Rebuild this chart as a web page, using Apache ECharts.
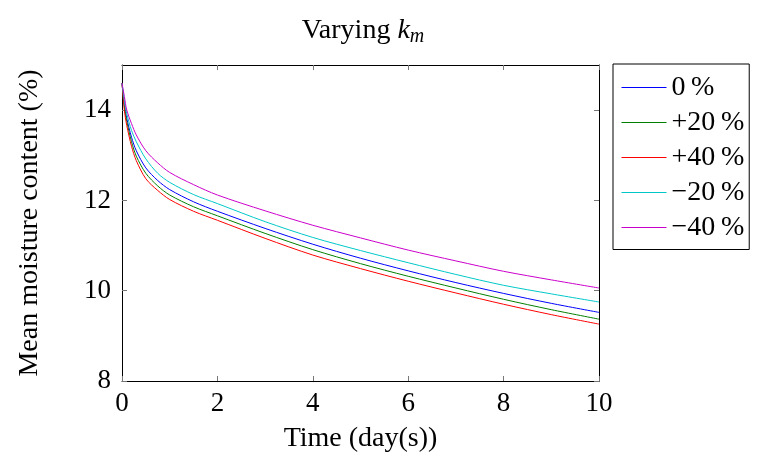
<!DOCTYPE html>
<html lang="en">
<head>
	<meta charset="UTF-8">
	<title>Varying k_m</title>
	<script src="https://cdn.jsdelivr.net/npm/echarts@6/dist/echarts.min.js"></script>
	<style>
		html, body, #chart {
			width: 100%;
			height: 100%;
			margin: 0;
			padding: 0;
			overflow: hidden;
			background: #fff;
		}
	</style>
</head>
<body>
	<div id="chart"></div>
	<script>
		// time axis (days)
		var timeDays = [0, 0.05, 0.1, 0.2, 0.3, 0.5, 0.75, 1, 1.5, 2, 3, 4, 5, 6, 7, 8, 9, 10];
		// mean moisture content (%) per k_m variation
		var km0 = [14.6, 14.12, 13.82, 13.4, 13.1, 12.72, 12.44, 12.24, 11.97, 11.76, 11.38, 11.03, 10.72, 10.44, 10.18, 9.94, 9.72, 9.52];
		var kmPlus20 = [14.6, 14.06, 13.75, 13.3, 12.98, 12.6, 12.32, 12.12, 11.86, 11.66, 11.27, 10.91, 10.6, 10.32, 10.06, 9.81, 9.58, 9.37];
		var kmPlus40 = [14.6, 14.0, 13.66, 13.2, 12.88, 12.48, 12.22, 12.02, 11.76, 11.56, 11.16, 10.79, 10.49, 10.21, 9.95, 9.7, 9.47, 9.26];
		var kmMinus20 = [14.6, 14.2, 13.92, 13.55, 13.3, 12.92, 12.6, 12.4, 12.13, 11.93, 11.53, 11.18, 10.89, 10.62, 10.36, 10.12, 9.93, 9.75];
		var kmMinus40 = [14.6, 14.3, 14.0, 13.7, 13.45, 13.1, 12.83, 12.62, 12.35, 12.12, 11.77, 11.45, 11.17, 10.9, 10.66, 10.43, 10.24, 10.06];

		var seriesNames = ['0\u2009%', '+20\u2009%', '+40\u2009%', '\u221220\u2009%', '\u221240\u2009%'];
		var seriesData = [km0, kmPlus20, kmPlus40, kmMinus20, kmMinus40];
		var seriesColors = ['#0000ff', '#008000', '#ff0000', '#00c8c8', '#cc00cc'];

		var xTicks = [0, 2, 4, 6, 8, 10];
		var yTicks = [8, 10, 12, 14];

		var serif = '"Liberation Serif", "DejaVu Serif", serif';

		function pairs(ys) {
			var out = [];
			for (var i = 0; i < timeDays.length; i++) {
				out.push([timeDays[i], ys[i]]);
			}
			return out;
		}

		var series = [];
		for (var i = 0; i < seriesNames.length; i++) {
			series.push({
				name: seriesNames[i],
				type: 'line',
				smooth: 0.3,
				symbol: 'none',
				color: seriesColors[i],
				lineStyle: { color: seriesColors[i], width: 1 },
				itemStyle: { color: seriesColors[i] },
				data: pairs(seriesData[i])
			});
		}

		var tickStyle = { show: true, inside: true, length: 5, lineStyle: { color: '#777', width: 1 } };
		var lineStyle = { show: true, onZero: false, lineStyle: { color: '#000', width: 1 } };

		var chart = echarts.init(document.getElementById('chart'));
		var option = {
			animation: false,
			title: {
				text: 'Varying {k|k}{m|m}',
				left: 358,
				top: 10,
				textAlign: 'center',
				textStyle: {
					fontFamily: serif,
					fontSize: 28,
					fontWeight: 'normal',
					color: '#000',
					rich: {
						k: { fontFamily: serif, fontSize: 28, fontStyle: 'italic', color: '#000' },
						m: { fontFamily: serif, fontSize: 20, fontStyle: 'italic', color: '#000', verticalAlign: 'bottom', padding: [12, 0, 0, 0] }
					}
				}
			},
			legend: {
				orient: 'vertical',
				left: 613,
				top: 64,
				itemWidth: 45,
				itemHeight: 12,
				itemGap: 7,
				padding: [9.5, 5, 8, 8],
				borderColor: '#000',
				borderWidth: 1,
				borderRadius: 0,
				// plain line swatch: hide the circle, keep a 1px line
				itemStyle: { opacity: 0 },
				lineStyle: { width: 1 },
				textStyle: { fontFamily: serif, fontSize: 28, color: '#000' },
				data: seriesNames
			},
			grid: { left: 122, right: 163, top: 65, bottom: 87 },
			xAxis: [{
				type: 'value',
				min: 0,
				max: 10,
				interval: 2,
				name: 'Time (day(s))',
				nameLocation: 'middle',
				nameGap: 44,
				nameTextStyle: { fontFamily: serif, fontSize: 28, color: '#000' },
				axisLine: lineStyle,
				axisTick: tickStyle,
				splitLine: { show: false },
				axisLabel: { customValues: xTicks, margin: 9, fontFamily: serif, fontSize: 27, color: '#000' }
			}, {
				type: 'value',
				position: 'top',
				min: 0,
				max: 10,
				interval: 2,
				axisLine: lineStyle,
				axisTick: tickStyle,
				splitLine: { show: false },
				axisLabel: { show: false }
			}],
			yAxis: [{
				type: 'value',
				min: 8,
				max: 15,
				interval: 2,
				name: 'Mean moisture content (%)',
				nameLocation: 'middle',
				nameGap: 78,
				nameTextStyle: { fontFamily: serif, fontSize: 28, color: '#000' },
				axisLine: lineStyle,
				axisTick: { show: true, inside: true, length: 5, customValues: yTicks, lineStyle: { color: '#777', width: 1 } },
				splitLine: { show: false },
				axisLabel: { customValues: yTicks, margin: 11, fontFamily: serif, fontSize: 27, color: '#000' }
			}, {
				type: 'value',
				position: 'right',
				min: 8,
				max: 15,
				interval: 2,
				axisLine: lineStyle,
				axisTick: { show: true, inside: true, length: 5, customValues: yTicks, lineStyle: { color: '#777', width: 1 } },
				splitLine: { show: false },
				axisLabel: { show: false }
			}],
			series: series
		};
		chart.setOption(option);
	</script>
</body>
</html>
